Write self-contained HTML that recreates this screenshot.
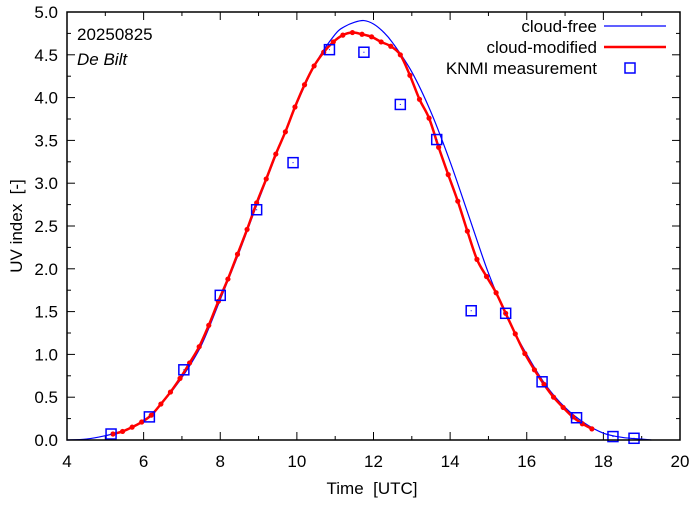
<!DOCTYPE html>
<html><head><meta charset="utf-8"><style>
body{margin:0;background:#fff}
svg text{font-family:"Liberation Sans",sans-serif;font-size:17px;fill:#000;white-space:pre}
</style></head><body>
<svg id="c" width="694" height="501"></svg>
<script>
const cfT=[4.0,4.5,5.0,5.5,6.0,6.5,7.0,7.5,8.0,8.5,9.0,9.5,10.0,10.5,11.0,11.25,11.5,11.75,12.0,12.25,12.5,13.0,13.5,14.0,14.5,15.0,15.5,16.0,16.5,17.0,17.5,18.0,18.5,19.0,19.25];
const cfV=[0,0.01,0.05,0.11,0.22,0.44,0.73,1.10,1.64,2.2,2.8,3.38,3.93,4.41,4.74,4.83,4.88,4.9,4.86,4.77,4.64,4.3,3.83,3.25,2.6,1.95,1.42,1.0,0.64,0.38,0.2,0.08,0.03,0.01,0];
const cmStart=5.2, cmStep=0.25;
const cmV=[0.07,0.10,0.15,0.21,0.29,0.42,0.56,0.72,0.90,1.09,1.34,1.62,1.88,2.17,2.46,2.77,3.05,3.34,3.6,3.89,4.15,4.37,4.53,4.65,4.73,4.76,4.74,4.71,4.65,4.6,4.5,4.26,3.98,3.76,3.42,3.1,2.79,2.44,2.11,1.91,1.72,1.48,1.24,1.01,0.82,0.65,0.50,0.38,0.27,0.19,0.13];
const msT=[5.15,6.15,7.05,8.0,8.95,9.9,10.85,11.75,12.7,13.65,14.55,15.45,16.4,17.3,18.25,18.8];
const msV=[0.07,0.27,0.82,1.69,2.69,3.24,4.56,4.53,3.92,3.51,1.51,1.48,0.68,0.26,0.04,0.02];
const xTicks=[4,6,8,10,12,14,16,18,20];
const yTicks=["0.0","0.5","1.0","1.5","2.0","2.5","3.0","3.5","4.0","4.5","5.0"];
const L=67,R=680,T=12,B=440;
const X=t=>L+(t-4)/16*(R-L), Y=v=>B-v/5*(B-T);
const svg=document.getElementById('c'),NS='http://www.w3.org/2000/svg';
function mk(tag,a,p){const e=document.createElementNS(NS,tag);for(const k in a)e.setAttribute(k,a[k]);(p||svg).appendChild(e);return e;}
function smooth(pts){let d='M'+pts[0][0]+','+pts[0][1];for(let i=0;i<pts.length-1;i++){const p0=pts[Math.max(0,i-1)],p1=pts[i],p2=pts[i+1],p3=pts[Math.min(pts.length-1,i+2)];d+='C'+(p1[0]+(p2[0]-p0[0])/6)+','+(p1[1]+(p2[1]-p0[1])/6)+' '+(p2[0]-(p3[0]-p1[0])/6)+','+(p2[1]-(p3[1]-p1[1])/6)+' '+p2[0]+','+p2[1];}return d;}
const g=mk('g',{stroke:'#000','stroke-width':1});


for(let h=4;h<=20;h++){const x=X(h),len=h%2==0?8:4;mk('line',{x1:x,y1:B,x2:x,y2:B-len},g);mk('line',{x1:x,y1:T,x2:x,y2:T+len},g);}
for(let k=0;k<=20;k++){const y=Y(k*0.25),len=k%2==0?8:4;mk('line',{x1:L,y1:y,x2:L+len,y2:y},g);mk('line',{x1:R,y1:y,x2:R-len,y2:y},g);}
xTicks.forEach(v=>{const t=mk('text',{x:X(v),y:B+27,'text-anchor':'middle'});t.textContent=v;

});
yTicks.forEach(s=>{const t=mk('text',{x:L-9,y:Y(parseFloat(s))+6,'text-anchor':'end'});t.textContent=s;

});
const cf=mk('path',{d:smooth(cfT.map((t,i)=>[X(t),Y(cfV[i])])),fill:'none',stroke:'#0000ff','stroke-width':1.2});


const cmPts=cmV.map((v,i)=>[X(cmStart+i*cmStep),Y(v)]);
const cm=mk('path',{d:smooth(cmPts),fill:'none',stroke:'#ff0000','stroke-width':2.5});


cmPts.forEach(p=>{const c=mk('circle',{cx:p[0],cy:p[1],r:2.6,fill:'#ff0000'});

});
msT.forEach((t,i)=>{const x=X(t),y=Y(msV[i]);const r=mk('rect',{x:x-5,y:y-5,width:10,height:10,fill:'none',stroke:'#0000ff','stroke-width':1.5});


mk('rect',{x:x-0.5,y:y-0.5,width:1,height:1,fill:'#0000ff'});});
const f=mk('rect',{x:L,y:T,width:R-L,height:B-T,fill:'none',stroke:'#000','stroke-width':1.5});


</script>
<svg width="694" height="501" style="position:absolute;left:0;top:0">
<text x="77" y="40">20250825</text>
<text x="77" y="65" font-style="italic">De Bilt</text>
<g>
<text x="597" y="32" text-anchor="end">cloud-free</text>
<line x1="604" y1="26" x2="666" y2="26" stroke="#0000ff" stroke-width="1.2"/>
<text x="597" y="53" text-anchor="end">cloud-modified</text>
<line x1="604" y1="47" x2="666" y2="47" stroke="#ff0000" stroke-width="2.5"/>
<text x="597" y="74" text-anchor="end">KNMI measurement</text>
<rect x="625" y="63" width="10" height="10" fill="none" stroke="#0000ff" stroke-width="1.5"/>
</g>
<text x="372" y="494" text-anchor="middle">Time  [UTC]</text>
<text transform="translate(22,226) rotate(-90)" text-anchor="middle">UV index  [-]</text>
</svg>
</body></html>
